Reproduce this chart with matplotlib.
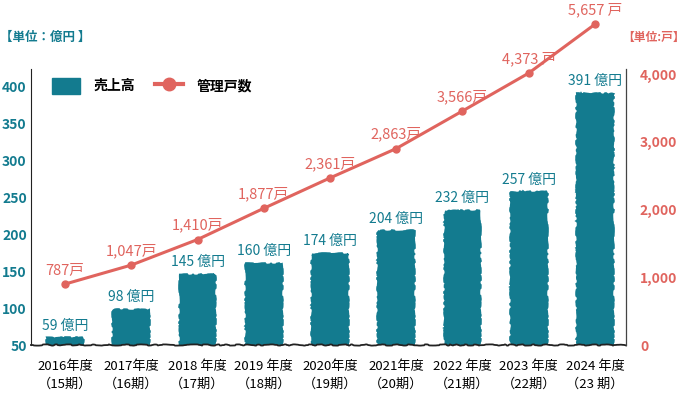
import numpy as np
import matplotlib
matplotlib.use('Agg')
import matplotlib.pyplot as plt
from matplotlib.patches import Patch
from matplotlib.lines import Line2D

plt.rcParams['font.family'] = ['Noto Sans CJK JP', 'DejaVu Sans']

# data
years = ['2016年度', '2017年度', '2018 年度', '2019 年度', '2020年度',
         '2021年度', '2022 年度', '2023 年度', '2024 年度']
terms = ['（15期）', '（16期）', '（17期）', '（18期）', '（19期）',
         '（20期）', '（21期）', '（22期）', '（23 期）']
sales = [59, 98, 145, 160, 174, 204, 232, 257, 391]          # 億円
units = [787, 1047, 1410, 1877, 2361, 2863, 3566, 4373, 5657]  # 戸
unit_sep = ['', '', '', '', '', '', '', ' ', ' ']  # spacing before 戸 as in the picture

teal = '#137b8f'
salmon = '#e0645e'

fig = plt.figure(figsize=(6.88, 3.93), dpi=100)
ax = fig.add_axes([0.045, 0.122, 0.865, 0.702])
x = np.arange(len(years))

bars = ax.bar(x, [s - 50 for s in sales], bottom=50, width=0.54,
              color=teal, edgecolor=teal, linewidth=1.5, zorder=2)
for b in bars:
    b.set_sketch_params(scale=0.8, length=25, randomness=20)

for xi, s in zip(x, sales):
    ax.annotate(f'{s} 億円', (xi, s), xytext=(0, 4), textcoords='offset points',
                ha='center', va='bottom', color=teal, fontsize=10)

ax.set_xlim(-0.515, 8.47)
ax.set_ylim(50, 424)
ax.set_yticks([50, 100, 150, 200, 250, 300, 350, 400])
ax.tick_params(axis='y', length=0, colors=teal, labelsize=10, pad=3)
for t in ax.get_yticklabels():
    t.set_fontweight('bold')
ax.set_xticks(x)
ax.set_xticklabels([f'{a}\n{b}' for a, b in zip(years, terms)],
                   fontsize=9.5, linespacing=1.45)
ax.tick_params(axis='x', length=0, pad=11)
ax.spines['top'].set_visible(False)
ax.spines['right'].set_visible(False)
ax.spines['left'].set_color('#222222')
ax.spines['bottom'].set_color('#222222')
ax.spines['bottom'].set_linewidth(1.3)
ax.spines['bottom'].set_sketch_params(scale=0.6, length=30, randomness=10)

# right axis: ticks only
ax2 = ax.twinx()
ax2.set_ylim(0, 4073)
ax2.set_yticks([0, 1000, 2000, 3000, 4000])
ax2.set_yticklabels(['0', '1,000', '2,000', '3,000', '4,000'])
ax2.tick_params(axis='y', length=0, colors=salmon, labelsize=10, pad=10)
for t in ax2.get_yticklabels():
    t.set_fontweight('bold')
for s in ['top', 'left', 'bottom']:
    ax2.spines[s].set_visible(False)
ax2.spines['right'].set_color('#444444')
ax2.spines['right'].set_linewidth(0.9)

# the line in the picture bends away from the tick scale near the top,
# so it gets its own hidden axis with a gently compressing scale
C = 5.28e-5


def squash(v):
    v = np.asarray(v, dtype=float)
    return v - C * v ** 2


def unsquash(t):
    t = np.asarray(t, dtype=float)
    return (1 - np.sqrt(np.maximum(1 - 4 * C * t, 0))) / (2 * C)


ax3 = ax.twinx()
ax3.set_yscale('function', functions=(squash, unsquash))
ax3.set_ylim(0, 4464)
ax3.axis('off')
ax3.plot(x, units, color=salmon, linewidth=2.2, marker='o', markersize=5,
         clip_on=False, zorder=3)
for xi, u, sep in zip(x, units, unit_sep):
    ax3.annotate(f'{u:,}{sep}戸', (xi, u), xytext=(0, 5), textcoords='offset points',
                 ha='center', va='bottom', color=salmon, fontsize=10.5,
                 annotation_clip=False)

handles = [Patch(facecolor=teal, edgecolor=teal),
           Line2D([], [], color=salmon, linewidth=3, marker='o', markersize=9)]
leg = ax.legend(handles, ['売上高', '管理戸数'], loc='upper left',
                bbox_to_anchor=(0.015, 1.015), ncol=2, frameon=False,
                handlelength=2.0, handleheight=1.4, columnspacing=1.4,
                handletextpad=1.0, prop={'size': 10, 'weight': 'bold'})

fig.text(0.0, 0.905, '【単位：億円 】', color=teal, fontsize=9,
         fontweight='bold', va='center')
fig.text(0.905, 0.905, '【単位:戸】', color=salmon, fontsize=8.5,
         fontweight='bold', va='center')

fig.savefig('out.png', dpi=100)
